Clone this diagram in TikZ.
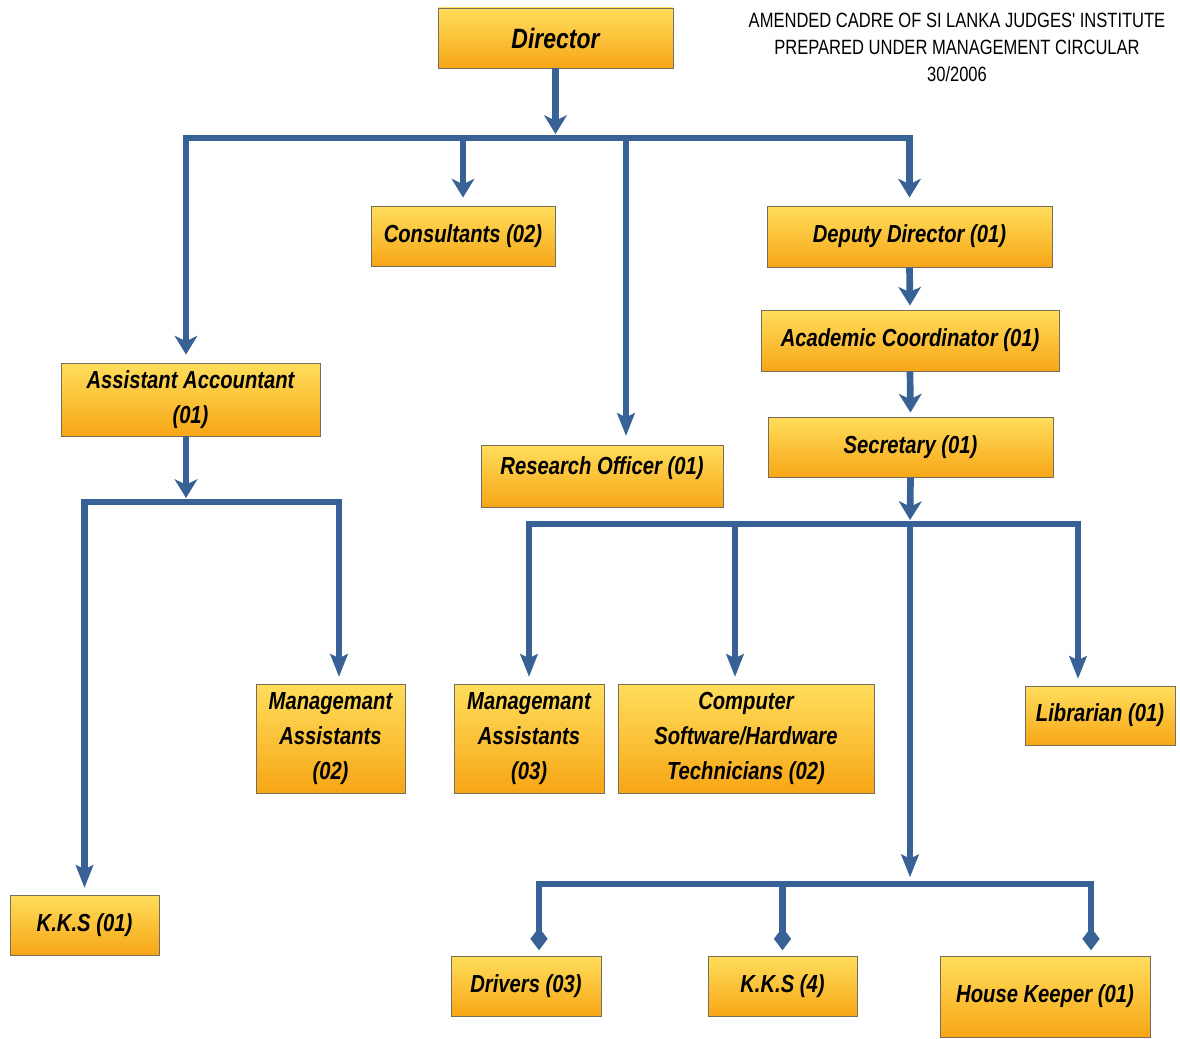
\documentclass[tikz,border=0pt]{standalone}
\usepackage{fontspec}
\setmainfont{Liberation Sans}[FakeStretch=0.82]
\newfontfamily\titlefont{Liberation Sans}[FakeStretch=0.80]
\usetikzlibrary{arrows.meta,calc}
\definecolor{arrblue}{RGB}{56,98,150}
\definecolor{boxtop}{RGB}{255,222,92}
\definecolor{boxbot}{RGB}{247,166,22}
\definecolor{boxline}{RGB}{120,110,90}
\begin{document}
\begin{tikzpicture}[x=0.75pt,y=-0.75pt,
  box/.style={draw=boxline, line width=0.7pt, top color=boxtop, bottom color=boxbot,
    align=center, inner sep=0pt, text=black,
    font=\bfseries\itshape\fontsize{18.5}{26}\selectfont},
  conn/.style={draw=arrblue, line width=5pt, line join=miter},
  arrA/.style={conn, -{Stealth[length=14pt,width=17pt,inset=4pt]}, shorten >=3pt},
  arrB/.style={conn, -{Stealth[length=17pt,width=13pt,inset=3pt]}, shorten >=5pt},
  dia/.style={conn, -{Diamond[length=17pt,width=13pt]}, shorten >=4pt},
]
\useasboundingbox (0,0) rectangle (1180,1038);
\fill[white] (0,0) rectangle (1180,1038);

% title
\node[font=\titlefont\fontsize{15.5}{20.25}\selectfont, align=center] (title) at (957,47)
  {AMENDED CADRE OF SI LANKA JUDGES' INSTITUTE\\PREPARED UNDER MANAGEMENT CIRCULAR\\30/2006};

% boxes
\node[box, minimum width=176.25pt, minimum height=45pt, font=\bfseries\itshape\fontsize{21}{26}\selectfont] (dir) at (555.5,38) {Director};
\node[box, minimum width=138pt, minimum height=45pt] (cons) at (463,236) {Consultants (02)};
\node[box, minimum width=213.75pt, minimum height=45.75pt] (dd) at (909.5,236.5) {Deputy Director (01)};
\node[box, minimum width=223.5pt, minimum height=45.75pt] (ac) at (910,340.5) {Academic Coordinator (01)};
\node[box, minimum width=213.75pt, minimum height=45pt] (sec) at (910.5,447) {Secretary (01)};
\node[box, minimum width=194.25pt, minimum height=54.75pt] (aa) at (190.5,399.5) {Assistant Accountant\\(01)};
\node[box, minimum width=181.5pt, minimum height=46.5pt] (ro) at (602,476) {\raisebox{1pt}[0pt][0pt]{Research Officer (01)}};
\node[box, minimum width=111.75pt, minimum height=81.75pt] (ma2) at (330.5,738.5) {Managemant\\Assistants\\(02)};
\node[box, minimum width=112.5pt, minimum height=81.75pt] (ma3) at (529,738.5) {Managemant\\Assistants\\(03)};
\node[box, minimum width=192pt, minimum height=81.75pt] (comp) at (746,738.5) {Computer\\Software/Hardware\\Technicians (02)};
\node[box, minimum width=112.5pt, minimum height=44.25pt] (lib) at (1100,715.5) {Librarian (01)};
\node[box, minimum width=111.75pt, minimum height=45pt] (kks1) at (84.5,925) {K.K.S (01)};
\node[box, minimum width=112.5pt, minimum height=45pt] (drv) at (526,986) {Drivers (03)};
\node[box, minimum width=111.75pt, minimum height=45pt] (kks4) at (782.5,986) {K.K.S (4)};
\node[box, minimum width=157.5pt, minimum height=60.75pt] (hk) at (1045,996.5) {House Keeper (01)};

% junction coordinates
\coordinate (b1) at (555.5,138);
\coordinate (b2) at (910,524);
\coordinate (b3) at (910,884);
\coordinate (b4) at (186,502);
\coordinate (rtop) at (626,436);
\coordinate (compd) at (735,0);
\coordinate (libd) at (1078,0);
\coordinate (ma2d) at (339,0);
\coordinate (drvd) at (539,0);
\coordinate (hkd) at (1091,0);
\coordinate (aad) at (186,0);

% connectors from director
\draw[arrA] (dir.south) -- (b1);
\draw[arrA, shorten >=6pt] (b1) -| (aad |- aa.north);
\draw[arrA, shorten >=6pt] (b1) -| (dd.north);
\draw[arrA, shorten >=6pt] (cons.north |- b1) -- (cons.north);
\draw[arrB, shorten >=0pt] (rtop |- b1) -- (rtop);

% deputy chain
\draw[arrA] (dd.south) -- (ac.north);
\draw[arrA] (ac.south) -- (sec.north);
\draw[arrA] (sec.south) -- (b2);

% secretary bus
\draw[arrB] (b2) -| (ma3.north);
\draw[arrB] (b2) -| (libd |- lib.north);
\draw[arrB] (compd |- b2) -- (compd |- comp.north);
\draw[arrB] (b2) -- (b3);

% bottom bus
\draw[dia] (b3) -| (drvd |- drv.north);
\draw[dia] (b3) -| (hkd |- hk.north);
\draw[dia] (kks4.north |- b3) -- (kks4.north);

% accountant bus
\draw[arrA] (aad |- aa.south) -- (b4);
\draw[arrB] (b4) -| (kks1.north);
\draw[arrB] (b4) -| (ma2d |- ma2.north);
\end{tikzpicture}
\end{document}
